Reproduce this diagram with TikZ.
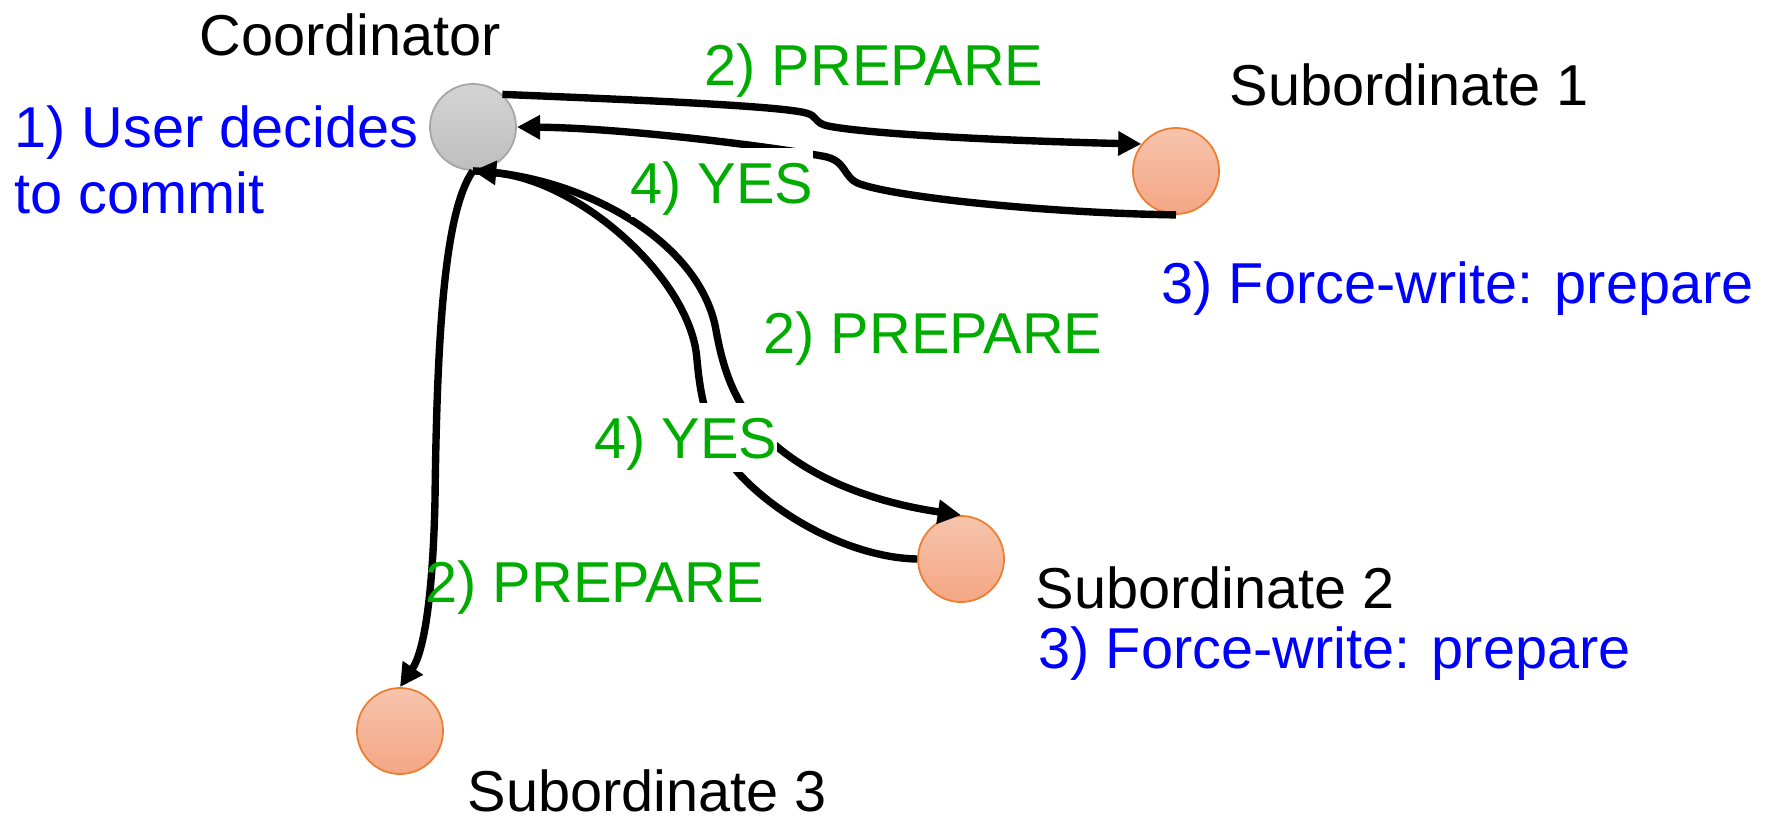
\documentclass[tikz,border=0pt]{standalone}
\usepackage{fontspec}
\setmainfont{Liberation Sans}
\usetikzlibrary{arrows.meta}

\definecolor{stepgreen}{RGB}{0,172,0}
\definecolor{noteblue}{RGB}{0,0,255}
\definecolor{subedge}{RGB}{237,125,49}
\definecolor{subtop}{RGB}{246,196,172}
\definecolor{subbot}{RGB}{244,166,132}
\definecolor{cotop}{RGB}{212,212,212}
\definecolor{cobot}{RGB}{190,190,190}
\definecolor{coedge}{RGB}{165,165,165}

\begin{document}
\begin{tikzpicture}[x=0.01cm, y=-0.01cm,
  site/.style={circle, minimum size=0.86cm, inner sep=0pt, line width=0.5pt},
  coordsite/.style={site, draw=coedge, top color=cotop, bottom color=cobot},
  subsite/.style={site, draw=subedge, top color=subtop, bottom color=subbot},
  txt/.style={anchor=base west, inner sep=0pt, font=\fontsize{16.4pt}{19pt}\selectfont},
  sitename/.style={txt, text=black},
  note/.style={txt, text=noteblue},
  msg/.style={txt, text=stepgreen},
  msgbox/.style={msg, fill=white, text height=0.55cm, text depth=0.14cm},
  flow/.style={line width=2.1pt, -{Triangle[length=6.6pt,width=6.6pt]}},
]
\useasboundingbox (0,0) rectangle (1767,815);

% sites
\node[coordsite] (co) at (473,127) {};
\node[subsite] (s1) at (1176,171) {};
\node[subsite] (s2) at (961,559) {};
\node[subsite] (s3) at (400,731) {};

% coordinator <-> subordinate 1
\draw[flow] (co.48) .. controls (640,100) and (780,106) .. (806,113)
  .. controls (818,116) and (814,123) .. (828,126)
  .. controls (880,136) and (1050,142) .. (s1.142);
\draw[flow] (s1.south) .. controls (1050,213) and (900,198) .. (860,184)
  .. controls (842,178) and (848,160) .. (822,156)
  .. controls (760,145) and (620,128) .. (co.east);

% coordinator -> subordinate 3
\draw[flow] (co.south) .. controls (445,210) and (437,330) .. (435,500)
  .. controls (433,590) and (425,650) .. (s3.north);

% coordinator <-> subordinate 2
\draw[flow] (co.south) .. controls (580,175) and (700,240) .. (716,330)
  .. controls (723,369) and (735,410) .. (775,445)
  .. controls (830,492) and (905,507) .. (s2.north);
\draw[flow] (s2.west) .. controls (860,558) and (790,525) .. (745,480)
  .. controls (705,440) and (700,390) .. (697,360)
  .. controls (692,280) and (580,180) .. (co.south);

% site names
\node[sitename] (coname) at (199,55) {Coordinator};
\node[sitename] (s1name) at (1229,105) {Subordinate 1};
\node[sitename] (s2name) at (1035,608) {Subordinate 2};
\node[sitename] (s3name) at (467,811) {Subordinate 3};

% local actions
\node[note] (user1) at (14,147) {1) User decides};
\node[note] (user2) at (14,213) {to commit};
\node[note] (force1) at (1161,303) {3) Force-write: prepare};
\node[note] (force2) at (1038,668) {3) Force-write: prepare};

% messages
\node[msg] (prep1) at (704,85) {2) PREPARE};
\node[msg] (prep2) at (763,353) {2) PREPARE};
\node[msg] (prep3) at (425,602) {2) PREPARE};
\node[msgbox] (yes1) at (630,203) {4) YES};
\node[msgbox] (yes2) at (594,458) {4) YES};
\end{tikzpicture}
\end{document}
